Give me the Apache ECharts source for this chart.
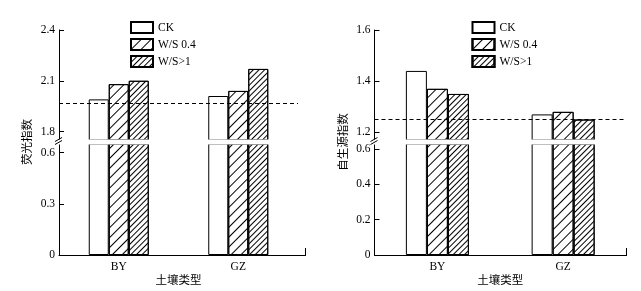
<!DOCTYPE html>
<html><head><meta charset="utf-8">
<script src="https://cdn.jsdelivr.net/npm/echarts@6/dist/echarts.min.js"></script>
<style>html,body{margin:0;padding:0;background:#fff}#c{width:641px;height:291px}</style>
</head><body><div id="c"></div>
<script>
// ---- data ----
const categories = ['BY', 'GZ'];
const seriesNames = ['CK', 'W/S 0.4', 'W/S>1'];
const fluorCK = [1.99, 2.01];
const fluorWS04 = [2.08, 2.04];
const fluorWS1 = [2.10, 2.17];
const fluorRef = 1.97;
const autoCK = [1.44, 1.27];
const autoWS04 = [1.37, 1.28];
const autoWS1 = [1.35, 1.25];
const autoRef = 1.25;
const fluorTicksUpper = [1.8, 2.1, 2.4];
const fluorTicksLower = [0, 0.3, 0.6];
const autoTicksUpper = [1.2, 1.4, 1.6];
const autoTicksLower = [0, 0.2, 0.4, 0.6];
const xTitle = '土壤类型';
const fluorTitle = '荧光指数';
const autoTitle = '自生源指数';

// ---- layout / style ----
const LATIN = 'Liberation Serif';
const CJK = 'Noto Sans CJK SC';
const TOP = 30, UPPER_H = 110, LOWER_TOP = 144, LOWER_H = 111, AXIS_Y = 255;
const panels = [
  { left: 59, width: 239, axisEnd: 305, upMin: 1.75, upMax: 2.4, upTicks: fluorTicksUpper,
    lowMax: 0.651, lowTicks: fluorTicksLower, data: [fluorCK, fluorWS04, fluorWS1], ref: fluorRef,
    barWidth: 20, legendLeft: 130, title: fluorTitle, titleX: 27 },
  { left: 374.5, width: 251.5, axisEnd: 626, upMin: 1.17, upMax: 1.6, upTicks: autoTicksUpper,
    lowMax: 0.628, lowTicks: autoTicksLower, data: [autoCK, autoWS04, autoWS1], ref: autoRef,
    barWidth: 21, legendLeft: 471.5, title: autoTitle, titleX: 342.5 }
];
const decals = [
  null,
  { symbol: 'rect', symbolSize: 1, dashArrayX: [1, 0], dashArrayY: [1, 6], rotation: -Math.PI / 4, color: '#000' },
  { symbol: 'rect', symbolSize: 1, dashArrayX: [1, 0], dashArrayY: [1, 2.5], rotation: -Math.PI / 4, color: '#000' }
];

const grid = [], xAxis = [], yAxis = [], series = [], legend = [], graphic = [];
const black = { color: '#000', width: 1 };

panels.forEach((p, pi) => {
  grid.push({ left: p.left, top: TOP, width: p.width, height: UPPER_H });
  grid.push({ left: p.left, top: LOWER_TOP, width: p.width, height: LOWER_H });
  xAxis.push({ type: 'category', data: categories, gridIndex: pi * 2, show: false });
  xAxis.push({ type: 'category', data: categories, gridIndex: pi * 2 + 1,
    axisLine: { lineStyle: black }, axisTick: { show: false },
    axisLabel: { color: '#000', fontFamily: LATIN, fontSize: 11.5, margin: 6 },
    name: xTitle, nameLocation: 'middle', nameGap: 17,
    nameTextStyle: { color: '#000', fontFamily: CJK, fontSize: 11.5 } });
  const yCommon = {
    type: 'value', splitLine: { show: false },
    axisLine: { show: true, lineStyle: black },
    axisLabel: { color: '#000', fontFamily: LATIN, fontSize: 11.5, margin: 4 }
  };
  yAxis.push(Object.assign({}, yCommon, { gridIndex: pi * 2, min: p.upMin, max: p.upMax,
    axisTick: { show: true, inside: true, length: 5, lineStyle: black, customValues: p.upTicks },
    axisLabel: Object.assign({}, yCommon.axisLabel, { customValues: p.upTicks }) }));
  yAxis.push(Object.assign({}, yCommon, { gridIndex: pi * 2 + 1, min: 0, max: p.lowMax,
    axisTick: { show: true, inside: true, length: 5, lineStyle: black, customValues: p.lowTicks },
    axisLabel: Object.assign({}, yCommon.axisLabel, { customValues: p.lowTicks }) }));

  seriesNames.forEach((name, k) => {
    [0, 1].forEach(h => {
      const s = {
        type: 'bar', name: name, xAxisIndex: pi * 2 + h, yAxisIndex: pi * 2 + h,
        data: p.data[k], barWidth: p.barWidth, barGap: '0%',
        itemStyle: { color: '#fff', borderColor: '#000', borderWidth: 1 },
        silent: true
      };
      if (decals[k]) s.itemStyle.decal = decals[k];
      if (k === 0 && h === 0) {
        s.markLine = { silent: true, symbol: ['none', 'none'], label: { show: false },
          lineStyle: { type: [4, 3], color: '#000', width: 1 }, data: [{ yAxis: p.ref }] };
      }
      series.push(s);
    });
  });

  legend.push({ data: seriesNames, orient: 'vertical', left: p.legendLeft, top: 21, padding: 0,
    itemWidth: 22, itemHeight: 11, itemGap: 4, icon: 'rect', selectedMode: false,
    textStyle: { color: '#000', fontFamily: LATIN, fontSize: 11.5, lineHeight: 12 } });

  // axis break: white band + slashes
  graphic.push({ type: 'rect', z: 100, silent: true,
    shape: { x: p.left - 6, y: TOP + UPPER_H - 0.5, width: p.width + 8, height: LOWER_TOP - TOP - UPPER_H + 1 },
    style: { fill: '#fff' } });
  graphic.push({ type: 'line', z: 101, silent: true,
    shape: { x1: p.left - 4, y1: 141.5, x2: p.left + 3, y2: 137.5 }, style: { stroke: '#000', lineWidth: 1 } });
  graphic.push({ type: 'line', z: 101, silent: true,
    shape: { x1: p.left - 4, y1: 144.5, x2: p.left + 3, y2: 140.5 }, style: { stroke: '#000', lineWidth: 1 } });
  // x-axis extension and end tick
  graphic.push({ type: 'line', z: 101, silent: true,
    shape: { x1: p.left + p.width, y1: AXIS_Y + 0.5, x2: p.axisEnd + 1, y2: AXIS_Y + 0.5 }, style: { stroke: '#000', lineWidth: 1 } });
  graphic.push({ type: 'line', z: 101, silent: true,
    shape: { x1: p.axisEnd + 0.5, y1: AXIS_Y - 7, x2: p.axisEnd + 0.5, y2: AXIS_Y + 1 }, style: { stroke: '#000', lineWidth: 1 } });
  // y title
  graphic.push({ type: 'text', z: 101, silent: true, x: p.titleX, y: 142, rotation: Math.PI / 2,
    style: { text: p.title, fill: '#000', font: '11.5px "' + CJK + '"', align: 'center', verticalAlign: 'middle' } });
});

const chart = echarts.init(document.getElementById('c'), null, { renderer: 'canvas' });
chart.setOption({
  animation: false,
  backgroundColor: '#fff',
  grid, xAxis, yAxis, series, legend, graphic
});
</script></body></html>
